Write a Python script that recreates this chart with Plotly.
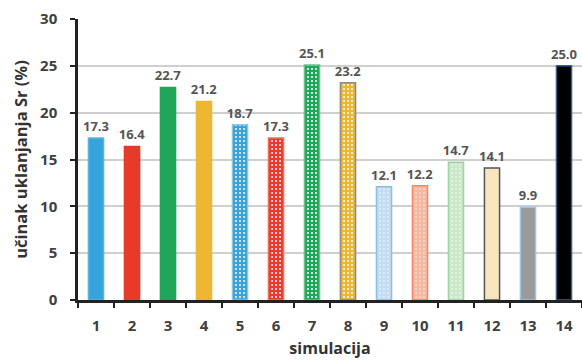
import plotly.graph_objects as go

categories = [str(i) for i in range(1, 15)]
values = [17.3, 16.4, 22.7, 21.2, 18.7, 17.3, 25.1, 23.2, 12.1, 12.2, 14.7, 14.1, 9.9, 25.0]
fill_colors = ["#36A3DC", "#E8392B", "#1FA65B", "#EDB733",
               "#36A3DC", "#E8392B", "#1FA65B", "#EDB733",
               "#C4DDF2", "#F7B7A2", "#CBE8CC", "#F9E5BD", "#9A9A9A", "#000000"]
outline_colors = ["#5DB3E3", "#E8392B", "#1FA65B", "#EDB733",
                  "#8CC4E8", "#F07060", "#6CC08A", "#8A8A8A",
                  "#8CC0E8", "#F08A6E", "#9ED3A3", "#555555", "#9CC3E8", "#3A5F8A"]
pattern_shapes = ["", "", "", "", ".", ".", ".", ".", ".", ".", ".", "", "", ""]
pattern_solidity = [0.3, 0.3, 0.3, 0.3, 0.2, 0.2, 0.2, 0.2, 0.1, 0.1, 0.1, 0.3, 0.3, 0.3]
y_ticks = [0, 5, 10, 15, 20, 25, 30]

fig = go.Figure()
for cat, val, fc, oc, shp, sol in zip(categories, values, fill_colors, outline_colors,
                                      pattern_shapes, pattern_solidity):
    marker = dict(color=fc, line=dict(color=oc, width=1.5))
    if shp:
        marker["pattern"] = dict(shape=shp, fgcolor="#FFFFFF", bgcolor=fc, fgopacity=1,
                                 size=4, solidity=sol, fillmode="replace")
    fig.add_trace(go.Bar(
        x=[cat], y=[val], marker=marker,
        texttemplate="%{y:.1f}", textposition="outside", cliponaxis=False,
        constraintext="none",
        textfont=dict(family="Open Sans", size=13, color="#555555", weight="bold"),
    ))

fig.update_layout(
    width=582, height=362,
    margin=dict(l=78, r=0, t=19, b=62),
    paper_bgcolor="white", plot_bgcolor="white",
    barmode="overlay", bargap=0.58, showlegend=False,
    font=dict(family="Open Sans", color="#404040"),
)
fig.update_xaxes(
    type="category", categoryorder="array", categoryarray=categories,
    tickson="boundaries", ticks="outside", ticklen=5,
    tickcolor="#222222", tickwidth=2,
    showline=True, linecolor="#222222", linewidth=2.5, showgrid=False,
    ticklabelstandoff=10,
    tickfont=dict(size=15, color="#404040", weight="bold"),
    title=dict(text="simulacija", font=dict(size=16, color="#333333", weight="bold"), standoff=10),
)
fig.update_yaxes(
    range=[0, 30], tickvals=y_ticks, ticks="outside", ticklen=5,
    tickcolor="#222222", tickwidth=2,
    showline=True, linecolor="#222222", linewidth=2.5,
    showgrid=True, gridcolor="#CFCFCF", gridwidth=1.5,
    ticklabelstandoff=10,
    tickfont=dict(size=15, color="#404040", weight="bold"),
    title=dict(text="učinak uklanjanja Sr (%)", font=dict(size=16.5, color="#333333", weight="bold"), standoff=9),
)

fig.write_html("out.html")
